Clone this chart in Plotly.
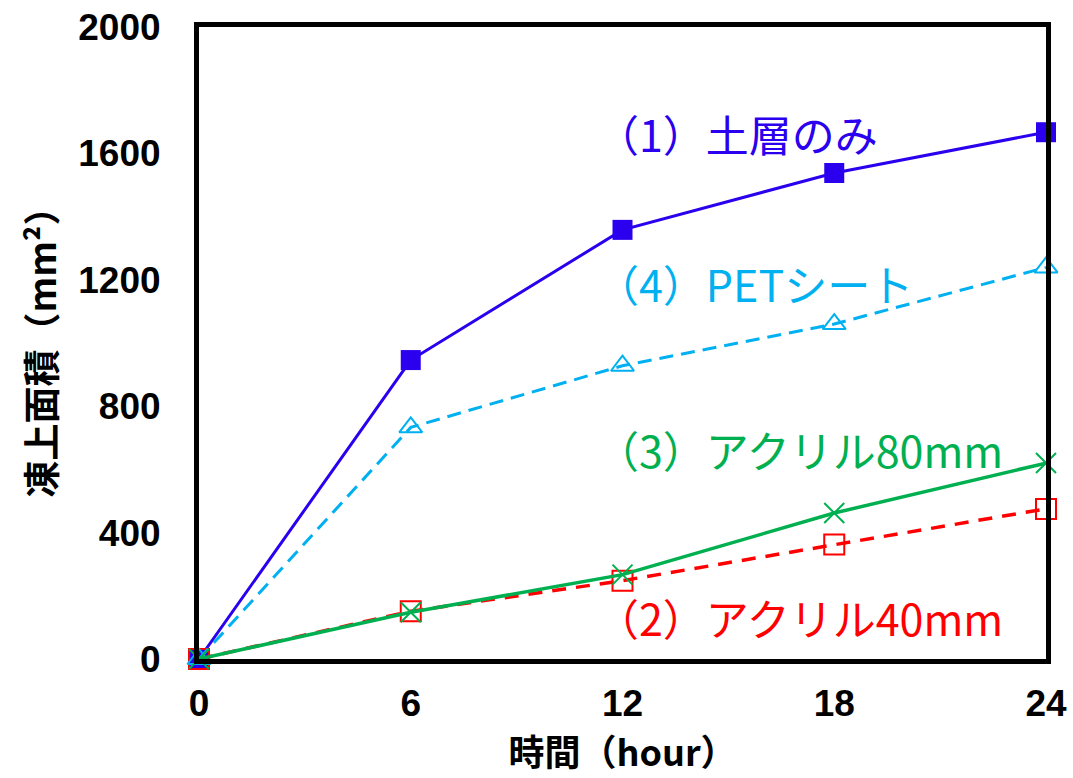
import plotly.graph_objects as go

hours = [0, 6, 12, 18, 24]
soil_only = [0, 946, 1358, 1538, 1667]
acrylic_40 = [0, 151, 248, 362, 475]
acrylic_80 = [0, 148, 267, 462, 620]
pet_sheet = [0, 733, 928, 1060, 1239]

x_ticks = [0, 6, 12, 18, 24]
y_ticks = [0, 400, 800, 1200, 1600, 2000]

BLUE = "#2A00EE"
RED = "#FF0000"
CYAN = "#00B0F0"
GREEN = "#00B050"

fig = go.Figure()

fig.add_trace(go.Scatter(
    x=hours, y=soil_only, mode="lines+markers", name="（1）土層のみ",
    line=dict(color=BLUE, width=3),
    marker=dict(symbol="square", size=20, color=BLUE, line=dict(width=0)),
    cliponaxis=False))
fig.add_trace(go.Scatter(
    x=hours, y=acrylic_40, mode="lines+markers", name="（2）アクリル40mm",
    line=dict(color=RED, width=3.5, dash="14px,10px"),
    marker=dict(symbol="square-open", size=20, color=RED, line=dict(width=2)),
    cliponaxis=False))
fig.add_trace(go.Scatter(
    x=hours, y=pet_sheet, mode="lines+markers", name="（4）PETシート",
    line=dict(color=CYAN, width=3, dash="14px,8px"),
    marker=dict(symbol="triangle-up-open", size=20, color=CYAN, line=dict(width=2)),
    cliponaxis=False))
fig.add_trace(go.Scatter(
    x=hours, y=acrylic_80, mode="lines+markers", name="（3）アクリル80mm",
    line=dict(color=GREEN, width=3.5),
    marker=dict(symbol="x-thin-open", size=20, color=GREEN, line=dict(width=2, color=GREEN)),
    cliponaxis=False))

# Series labels placed in data coordinates (hours, mm²)
labels = [
    ("（1）土層のみ", 11.2, 1663, BLUE),
    ("（4）PETシート", 11.2, 1191, CYAN),
    ("（3）アクリル80mm", 11.2, 664, GREEN),
    ("（2）アクリル40mm", 11.2, 134, RED),
]
for text, lx, ly, color in labels:
    fig.add_annotation(
        x=lx, y=ly, xref="x", yref="y",
        xanchor="left", yanchor="middle", showarrow=False,
        text=text, font=dict(family="Noto Sans CJK JP", size=43, color=color))

tick_font = dict(family="Liberation Sans", size=37, color="black", weight="bold")

fig.update_layout(
    width=1073, height=778,
    margin=dict(l=199, r=27, t=27, b=119),
    plot_bgcolor="white", paper_bgcolor="white",
    showlegend=False,
    xaxis=dict(
        range=[0, 24], tickvals=x_ticks, showgrid=False, zeroline=False,
        showline=True, linecolor="black", linewidth=5, mirror=True,
        ticks="", ticklen=0, ticklabelstandoff=8, automargin=False,
        tickfont=tick_font,
        title=dict(text="<b>時間（hour）</b>", standoff=4,
                   font=dict(family="Noto Sans CJK JP", size=36, color="black")),
    ),
    yaxis=dict(
        range=[0, 2000], tickvals=y_ticks, showgrid=False, zeroline=False,
        showline=True, linecolor="black", linewidth=5, mirror=True,
        ticks="", ticklen=0, ticklabelstandoff=26, automargin=False,
        tickfont=tick_font,
        title=dict(text="<b>凍上面積（mm²）</b>", standoff=12,
                   font=dict(family="Noto Sans CJK JP", size=37, color="black")),
    ),
)

fig.write_html("out.html")
